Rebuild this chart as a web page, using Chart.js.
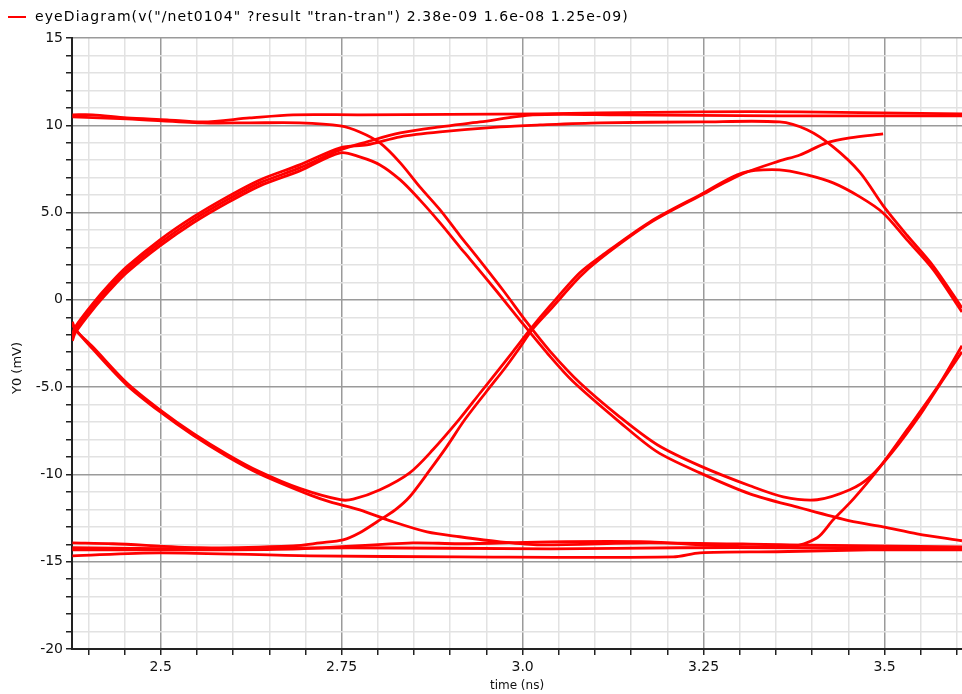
<!DOCTYPE html>
<html>
<head>
<meta charset="utf-8">
<script src="https://cdn.jsdelivr.net/npm/chart.js@4.4.1/dist/chart.umd.min.js"></script>
<style>
  html, body { margin: 0; padding: 0; background: #fff; }
  #wrap { width: 962px; height: 694px; }
</style>
</head>
<body>
<div id="wrap"><canvas id="eye"></canvas></div>
<script>
// eyeDiagram の軌跡 [time (ns), Y0 (mV)]
const upperFlatA = [
  [2.378, 10.60], [2.406, 10.60], [2.453, 10.42], [2.509, 10.31], [2.558, 10.19], [2.623, 10.42],
  [2.683, 10.60], [2.775, 10.60], [3.024, 10.65], [3.107, 10.71], [3.245, 10.77], [3.383, 10.77],
  [3.494, 10.71], [3.607, 10.65]
];
const upperFallA = [
  [2.378, 10.48], [2.453, 10.37], [2.558, 10.14], [2.623, 10.14], [2.692, 10.14], [2.748, 9.97],
  [2.775, 9.62], [2.803, 8.99], [2.831, 7.85], [2.858, 6.47], [2.886, 5.15], [2.913, 3.70],
  [2.937, 2.46], [2.973, 0.55], [3.007, -1.35], [3.038, -2.95], [3.079, -4.75], [3.134, -6.70],
  [3.186, -8.30], [3.245, -9.51], [3.314, -10.65], [3.360, -11.28], [3.407, -11.45], [3.452, -10.88],
  [3.480, -10.14], [3.511, -8.71], [3.549, -6.59], [3.576, -4.87], [3.607, -2.98]
];
const riseA = [
  [2.378, -2.18], [2.382, -1.72], [2.406, -0.40], [2.430, 0.74], [2.453, 1.72], [2.499, 3.26],
  [2.545, 4.58], [2.592, 5.73], [2.637, 6.70], [2.692, 7.56], [2.748, 8.59], [2.785, 9.05],
  [2.831, 9.56], [2.886, 9.91], [2.941, 10.19], [3.014, 10.60], [3.134, 10.60], [3.355, 10.54],
  [3.494, 10.54], [3.607, 10.54]
];
const riseB = [
  [2.378, -2.35], [2.382, -1.89], [2.406, -0.57], [2.430, 0.57], [2.453, 1.55], [2.499, 3.09],
  [2.545, 4.41], [2.592, 5.56], [2.637, 6.53], [2.692, 7.39], [2.748, 8.42], [2.775, 8.19],
  [2.803, 7.73], [2.831, 6.87], [2.858, 5.73], [2.886, 4.41], [2.913, 3.04], [2.927, 2.35],
  [2.965, 0.45], [2.999, -1.30], [3.035, -3.10], [3.069, -4.65], [3.134, -7.00], [3.186, -8.71],
  [3.245, -9.91], [3.314, -11.11], [3.383, -11.91], [3.452, -12.66], [3.498, -13.00], [3.545, -13.40],
  [3.607, -13.80]
];
const riseC = [
  [2.378, -2.00], [2.382, -1.55], [2.406, -0.23], [2.430, 0.92], [2.453, 1.89], [2.499, 3.44],
  [2.545, 4.75], [2.592, 5.90], [2.637, 6.87], [2.692, 7.73], [2.748, 8.71], [2.785, 8.88],
  [2.831, 9.34], [2.886, 9.62], [2.969, 9.91], [3.024, 10.02], [3.107, 10.14], [3.245, 10.19],
  [3.355, 10.19], [3.393, 9.74], [3.429, 8.76], [3.466, 7.30], [3.498, 5.40], [3.531, 3.70],
  [3.567, 1.95], [3.607, -0.46]
];
const fallDownA = [
  [2.378, -1.37], [2.382, -1.72], [2.406, -2.69], [2.453, -4.75], [2.499, -6.30], [2.545, -7.65],
  [2.592, -8.85], [2.637, -9.85], [2.692, -10.80], [2.748, -11.45], [2.766, -11.42], [2.803, -10.88],
  [2.844, -9.91], [2.876, -8.59], [2.913, -6.82], [2.941, -5.35], [2.969, -3.90], [2.987, -2.95],
  [3.010, -1.72], [3.038, -0.34], [3.079, 1.55], [3.107, 2.46], [3.176, 4.47], [3.245, 6.01],
  [3.304, 7.27], [3.355, 7.45], [3.393, 7.16], [3.429, 6.70], [3.466, 5.90], [3.498, 4.98],
  [3.531, 3.44], [3.567, 1.75], [3.607, -0.69]
];
const fallDownB = [
  [2.378, -1.26], [2.382, -1.66], [2.406, -2.81], [2.453, -4.87], [2.499, -6.41], [2.545, -7.76],
  [2.592, -8.97], [2.637, -9.97], [2.706, -11.17], [2.734, -11.57], [2.775, -12.03], [2.821, -12.71],
  [2.868, -13.29], [2.913, -13.57], [2.969, -13.86], [3.024, -14.03], [3.176, -13.92], [3.369, -14.03],
  [3.607, -14.15]
];
const lowRiseA = [
  [2.378, -13.92], [2.434, -13.97], [2.554, -14.20], [2.683, -14.09], [2.720, -13.92], [2.752, -13.75],
  [2.775, -13.34], [2.799, -12.71], [2.824, -12.03], [2.844, -11.28], [2.872, -9.74], [2.895, -8.42],
  [2.920, -6.87], [2.952, -5.15], [2.976, -3.89], [2.994, -2.86], [3.013, -1.72], [3.038, -0.57],
  [3.079, 1.32], [3.107, 2.35], [3.176, 4.41], [3.245, 5.96], [3.304, 7.22], [3.355, 7.96],
  [3.383, 8.30], [3.420, 8.99], [3.452, 9.28], [3.498, 9.51]
];
const lowRiseB = [
  [2.378, -14.32], [2.554, -14.32], [2.692, -14.26], [2.848, -13.92], [2.913, -13.97], [3.038, -13.86],
  [3.176, -13.86], [3.245, -14.03], [3.369, -14.15], [3.407, -13.63], [3.429, -12.60], [3.452, -11.63],
  [3.476, -10.48], [3.498, -9.34], [3.531, -7.45], [3.576, -4.81], [3.607, -2.63]
];
const lowFlatC = [
  [2.378, -14.66], [2.499, -14.49], [2.706, -14.66], [2.913, -14.72], [3.208, -14.72], [3.245, -14.49],
  [3.351, -14.43], [3.480, -14.32], [3.607, -14.32]
];
const lowFlatD = [
  [2.378, -14.20], [2.554, -14.26], [2.761, -14.20], [3.038, -14.26], [3.217, -14.20], [3.369, -14.20],
  [3.607, -14.20]
];

const traces = [upperFlatA, upperFallA, riseA, riseB, riseC, fallDownA, fallDownB,
                lowRiseA, lowRiseB, lowFlatC, lowFlatD];

const legendLabel = 'eyeDiagram(v("/net0104" ?result "tran-tran") 2.38e-09 1.6e-08 1.25e-09)';
const yTitle = 'Y0 (mV)';

// 軸の範囲と目盛り
const xMin = 2.3775;
const xMax = 3.607;
const yMin = -20;
const yMax = 15;
const xMajorTicks = [2.5, 2.75, 3.0, 3.25, 3.5];
const xMajorLabels = ['2.5', '2.75', '3.0', '3.25', '3.5'];
const yMajorTicks = [15, 10, 5, 0, -5, -10, -15, -20];
const yMajorLabels = ['15', '10', '5.0', '0', '-5.0', '-10', '-15', '-20'];

const RED = '#ff0000';
const FONT = '"DejaVu Sans", sans-serif';

function majorIndex(list, value) {
  return list.findIndex(v => Math.abs(v - value) < 1e-6);
}

// 白背景、凡例、縦軸タイトル
const eyePlugin = {
  id: 'eyePlugin',
  beforeDraw(chart) {
    const ctx = chart.ctx;
    ctx.save();
    ctx.fillStyle = '#ffffff';
    ctx.fillRect(0, 0, chart.width, chart.height);
    ctx.restore();
  },
  afterDraw(chart) {
    const ctx = chart.ctx;
    ctx.save();
    ctx.strokeStyle = RED;
    ctx.lineWidth = 2;
    ctx.beginPath();
    ctx.moveTo(8, 17);
    ctx.lineTo(26, 17);
    ctx.stroke();
    ctx.fillStyle = '#000';
    ctx.font = '14px ' + FONT;
    ctx.letterSpacing = '1.1px';
    ctx.textBaseline = 'middle';
    ctx.fillText(legendLabel, 35, 17);
    ctx.restore();

    ctx.save();
    ctx.translate(18, 368);
    ctx.rotate(-Math.PI / 2);
    ctx.fillStyle = '#111';
    ctx.font = '13px ' + FONT;
    ctx.textAlign = 'center';
    ctx.textBaseline = 'middle';
    ctx.fillText(yTitle, 0, 0);
    ctx.restore();
  }
};

const datasets = traces.map(pts => ({
  label: legendLabel,
  data: pts.map(([x, y]) => ({ x, y })),
  showLine: true,
  borderColor: RED,
  backgroundColor: RED,
  borderWidth: 2.8,
  pointRadius: 0,
  tension: 0.3,
  fill: false
}));

new Chart(document.getElementById('eye'), {
  type: 'scatter',
  data: { datasets },
  plugins: [eyePlugin],
  options: {
    responsive: true,
    maintainAspectRatio: false,
    animation: false,
    events: [],
    layout: { padding: { top: 38, left: 0, right: 0, bottom: 0 } },
    plugins: {
      legend: { display: false },
      tooltip: { enabled: false }
    },
    scales: {
      x: {
        type: 'linear',
        min: xMin,
        max: xMax,
        afterFit: s => { s.height = 45; },
        border: { color: '#222', width: 2 },
        grid: {
          color: c => majorIndex(xMajorTicks, c.tick.value) >= 0 ? '#9a9a9a' : '#e2e2e2',
          lineWidth: 1.5,
          tickLength: 6,
          tickColor: '#222'
        },
        ticks: {
          stepSize: 0.05,
          includeBounds: false,
          autoSkip: false,
          maxRotation: 0,
          padding: 4,
          color: '#111',
          font: { family: FONT, size: 14 },
          callback: v => {
            const i = majorIndex(xMajorTicks, v);
            return i >= 0 ? xMajorLabels[i] : '';
          }
        },
        title: {
          display: true,
          text: 'time (ns)',
          color: '#111',
          font: { family: FONT, size: 12 },
          padding: { top: 0, bottom: 1 }
        }
      },
      y: {
        type: 'linear',
        min: yMin,
        max: yMax,
        afterFit: s => { s.width = 72; },
        border: { color: '#222', width: 2 },
        grid: {
          color: c => majorIndex(yMajorTicks, c.tick.value) >= 0 ? '#9a9a9a' : '#e2e2e2',
          lineWidth: 1.5,
          tickLength: 6,
          tickColor: '#222'
        },
        ticks: {
          stepSize: 1,
          autoSkip: false,
          padding: 3,
          color: '#111',
          font: { family: FONT, size: 14 },
          callback: v => {
            const i = majorIndex(yMajorTicks, v);
            return i >= 0 ? yMajorLabels[i] : '';
          }
        },
        title: { display: false }
      }
    }
  }
});
</script>
</body>
</html>
